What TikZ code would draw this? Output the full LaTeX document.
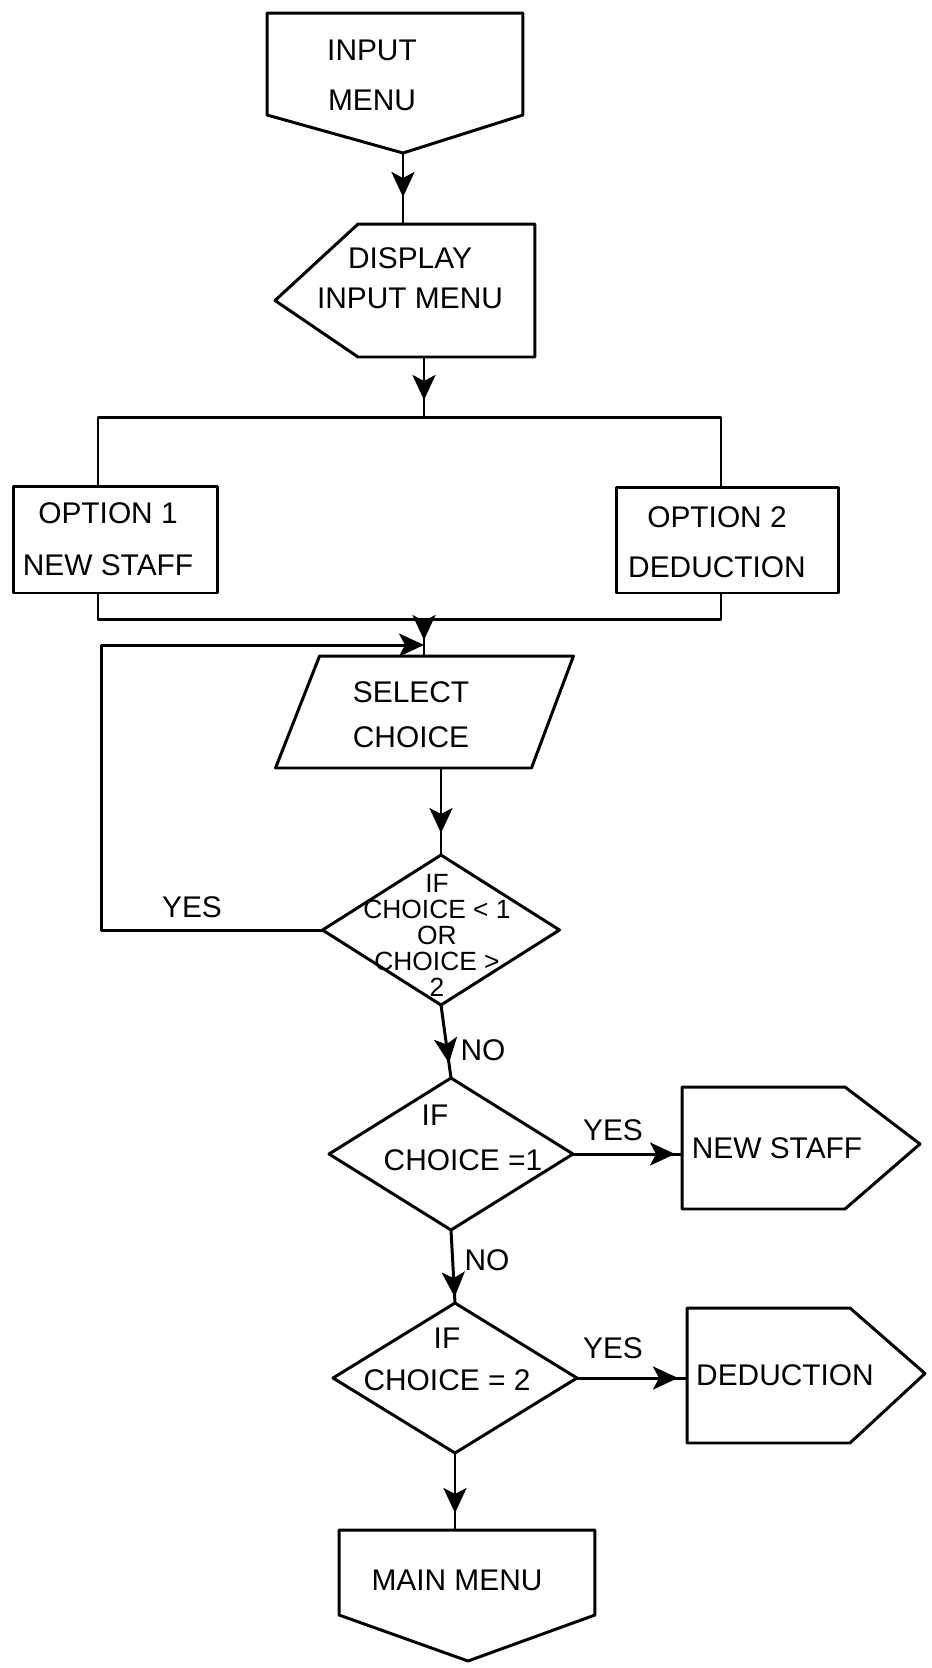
\documentclass[tikz,border=0pt]{standalone}
\usepackage{fontspec}
\setmainfont{Liberation Sans}
\usetikzlibrary{arrows.meta, shapes.geometric, calc, positioning, decorations.markings}

\tikzset{
  flow/.style={line width=1.7pt, line join=round},
  body/.style={rectangle, inner sep=0pt, outer sep=0pt},
  optbox/.style={flow, draw, rectangle, inner sep=0pt, outer sep=0pt},
  decision/.style={flow, draw, diamond, inner sep=0pt, outer sep=0pt},
  hand/.style={font=\fontsize{17}{#1}\selectfont, align=center, inner sep=0pt},
  hand/.default=20pt,
  flowarrow/.style={flow, postaction={decorate}, decoration={markings, mark=at position #1 with {\arrow{Stealth[length=0.5cm, width=0.46cm, inset=0.12cm]}}}},
  flowarrow/.default=-0.3cm,
  tiparrow/.style={flow, -{Stealth[length=0.5cm, width=0.46cm, inset=0.12cm]}},
}

\begin{document}
\begin{tikzpicture}[x=0.02cm, y=-0.02cm]
  \useasboundingbox (0,0) rectangle (932,1668);

  % Entry - input menu (off-page shape, pointing down)
  \node[body, minimum width=5.12cm, minimum height=2.04cm] (inmenu) at (395,64) {};
  \coordinate (inmenu-tip) at ($(inmenu.south)+(8,38)$);
  \draw[flow] (inmenu.south west) -- (inmenu.north west) -- (inmenu.north east) -- (inmenu.south east) -- (inmenu-tip) -- cycle;
  \node[hand=28.5pt] (inmenu-txt) at (372,75) {INPUT\\MENU};

  % Display input menu (pointing left)
  \node[body, minimum width=3.54cm, minimum height=2.66cm] (disp) at (446.5,290.5) {};
  \coordinate (disp-tip) at ($(disp.west)+(-83,10)$);
  \draw[flow] (disp.north west) -- (disp.north east) -- (disp.south east) -- (disp.south west) -- (disp-tip) -- cycle;
  \node[hand=22.8pt] (disp-txt) at (410,278) {DISPLAY\\INPUT MENU};
  \draw[flowarrow=-0.54cm] (inmenu-tip) -- (inmenu-tip |- disp.north);

  % Options bus
  \coordinate (trunk) at (424,0);
  \coordinate (bus-tl) at (98,417);
  \coordinate (bus-tr) at (721,417);
  \coordinate (bus-bl) at (98,619);
  \coordinate (bus-br) at (721,619);
  \node[optbox, minimum width=4.1cm, minimum height=2.14cm] (opt1) at (115.5,539.5) {};
  \node[optbox, minimum width=4.46cm, minimum height=2.12cm] (opt2) at (727.5,540) {};
  \node[hand=29.6pt] (opt1-txt) at (108,539) {OPTION 1\\NEW STAFF};
  \node[hand=28.5pt] (opt2-txt) at (717,542) {OPTION 2\\DEDUCTION};
  \draw[flowarrow=-0.34cm] (trunk |- disp.south) -- (trunk |- bus-tl);
  \draw[flow] (bus-tl |- opt1.north) -- (bus-tl) -- (bus-tr) -- (bus-tr |- opt2.north);
  \draw[flow] (bus-bl |- opt1.south) -- (bus-bl) -- (bus-br) -- (bus-br |- opt2.south);

  % Select choice (input parallelogram)
  \node[body, minimum width=5.1cm, minimum height=2.24cm] (sel) at (425,712) {};
  \draw[flow] ($(sel.north west)+(22,0)$) -- ($(sel.north east)+(21,0)$) -- ($(sel.south east)+(-21,0)$) -- ($(sel.south west)+(-22,0)$) -- cycle;
  \node[hand=25.6pt] (sel-txt) at (411,715) {SELECT\\CHOICE};
  \draw[flowarrow=-0.32cm] (trunk |- bus-bl) -- (trunk |- sel.north);

  % Range check, loop back when out of range
  \node[decision, minimum width=4.74cm, minimum height=3.0cm] (d1) at (441,930) {};
  \node[hand, font=\fontsize{15}{14.8}\selectfont] (d1-txt) at (437,935) {IF\\CHOICE < 1\\OR\\CHOICE >\\2};
  \draw[flowarrow=-0.44cm] (d1.north |- sel.south) -- (d1.north);
  \coordinate (loop-in) at (424,645);
  \draw[tiparrow] (d1.west) -- ++(-221,0) coordinate (loop-corner) |- (loop-in);
  \node[hand] (yes-loop) at (192,907) {YES};

  % Choice 1 - new staff
  \node[decision, minimum width=4.88cm, minimum height=3.04cm] (d2) at (451,1154) {};
  \node[hand] (d2-if) at (435,1115) {IF};
  \node[hand] (d2-txt) at (463,1160) {CHOICE =1};
  \draw[flowarrow=-0.3cm] (d1.south) -- (d2.north);
  \node[hand] (no-1) at (483,1050) {NO};
  \node[body, minimum width=3.26cm, minimum height=2.44cm] (nstaff) at (763.5,1148) {};
  \coordinate (nstaff-tip) at ($(nstaff.east)+(75,-4)$);
  \draw[flow] (nstaff.south west) -- (nstaff.north west) -- (nstaff.north east) -- (nstaff-tip) -- (nstaff.south east) -- cycle;
  \node[hand] (nstaff-txt) at (777,1148) {NEW STAFF};
  \draw[flowarrow=-0.14cm] (d2.east) -- (d2.east -| nstaff.west);
  \node[hand] (yes-1) at (613,1130) {YES};

  % Choice 2 - deduction
  \node[decision, minimum width=4.88cm, minimum height=3.0cm] (d3) at (455,1378) {};
  \node[hand=23.9pt] (d3-txt) at (447,1359) {IF\\CHOICE = 2};
  \draw[flowarrow=-0.12cm] (d2.south) -- (d3.north);
  \node[hand] (no-2) at (487,1260) {NO};
  \node[body, minimum width=3.26cm, minimum height=2.7cm] (ded) at (768.5,1375.5) {};
  \coordinate (ded-tip) at ($(ded.east)+(75,-2)$);
  \draw[flow] (ded.south west) -- (ded.north west) -- (ded.north east) -- (ded-tip) -- (ded.south east) -- cycle;
  \node[hand] (ded-txt) at (785,1375) {DEDUCTION};
  \draw[flowarrow=-0.18cm] (d3.east) -- (d3.east -| ded.west);
  \node[hand] (yes-2) at (613,1348) {YES};

  % Exit - main menu
  \node[body, minimum width=5.12cm, minimum height=1.7cm] (mm) at (467,1572.5) {};
  \coordinate (mm-tip) at ($(mm.south)+(1,46)$);
  \draw[flow] (mm.south west) -- (mm.north west) -- (mm.north east) -- (mm.south east) -- (mm-tip) -- cycle;
  \node[hand] (mm-txt) at (457,1580) {MAIN MENU};
  \draw[flowarrow=-0.34cm] (d3.south) -- (d3.south |- mm.north);
\end{tikzpicture}
\end{document}
